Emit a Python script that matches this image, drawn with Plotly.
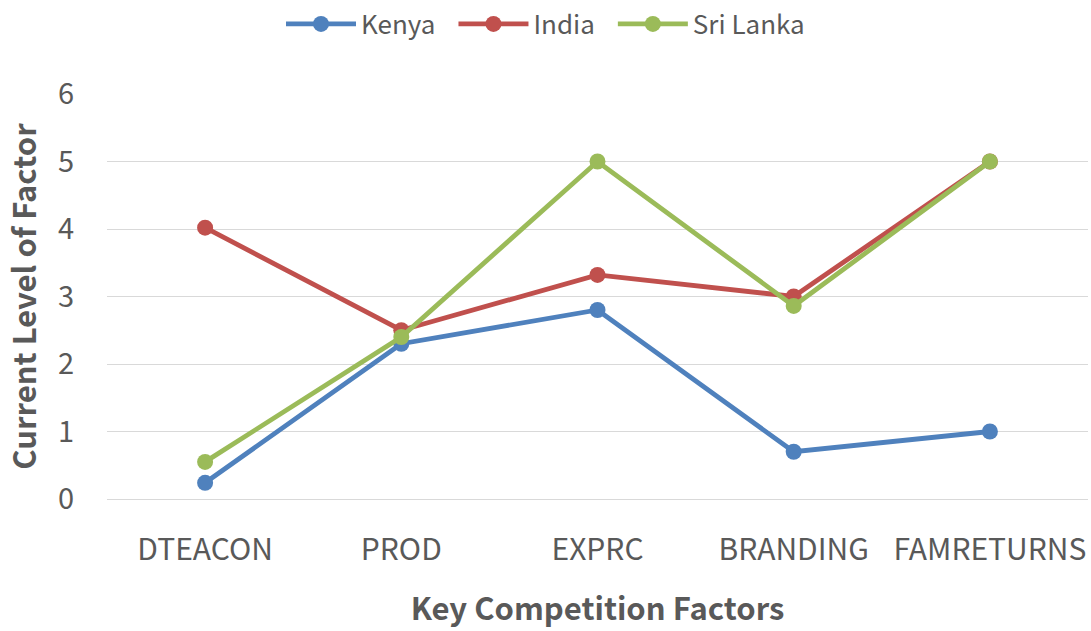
import plotly.graph_objects as go

categories = ["DTEACON", "PROD", "EXPRC", "BRANDING", "FAMRETURNS"]
kenya = [0.24, 2.3, 2.8, 0.7, 1.0]
india = [4.02, 2.5, 3.32, 3.0, 5.0]
sri_lanka = [0.55, 2.4, 5.0, 2.86, 5.0]
series_names = ["Kenya", "India", "Sri Lanka"]

PAD = "\u2002\u200b"
series = [(series_names[0] + PAD, kenya, "#4F81BD"),
          (series_names[1] + PAD, india, "#C0504D"),
          (series_names[2], sri_lanka, "#9BBB59")]

FONT = "Noto Sans CJK KR"
fig = go.Figure()
for name, vals, col in series:
    fig.add_trace(go.Scatter(x=categories, y=vals, name=name, mode="lines+markers",
                             line=dict(color=col, width=4.8),
                             marker=dict(color=col, size=16)))

fig.update_layout(
    width=1091, height=631,
    margin=dict(l=107, r=3, t=94, b=132, autoexpand=False),
    paper_bgcolor="white", plot_bgcolor="white",
    font=dict(family=FONT, color="#595959", size=28),
    legend=dict(orientation="h", xref="container", yref="container",
                x=0.5, xanchor="center", y=0.962, yanchor="middle",
                font=dict(size=26, color="#595959"), itemwidth=70,
                traceorder="normal"),
    showlegend=True,
)
fig.update_xaxes(type="category", range=[-0.5, 4.5], showgrid=False, showline=False,
                 automargin=False,
                 ticks="", ticklabelstandoff=30, tickfont=dict(size=30, color="#595959"),
                 title=dict(text="<b>Key Competition Factors</b>", standoff=30,
                            font=dict(size=31, color="#595959")))
fig.update_yaxes(range=[0, 6], dtick=1, showgrid=True, gridcolor="#D9D9D9", gridwidth=1,
                 automargin=False,
                 zeroline=True, zerolinecolor="#D9D9D9", zerolinewidth=1, showline=False,
                 ticks="", ticklabelstandoff=32, tickfont=dict(size=29, color="#595959"),
                 title=dict(text="<b>Current Level of Factor</b>", standoff=14,
                            font=dict(size=31, color="#595959")))

fig.write_html("out.html", config={"displayModeBar": False},
               post_script="document.body.style.margin='0';document.body.style.overflow='hidden';")
